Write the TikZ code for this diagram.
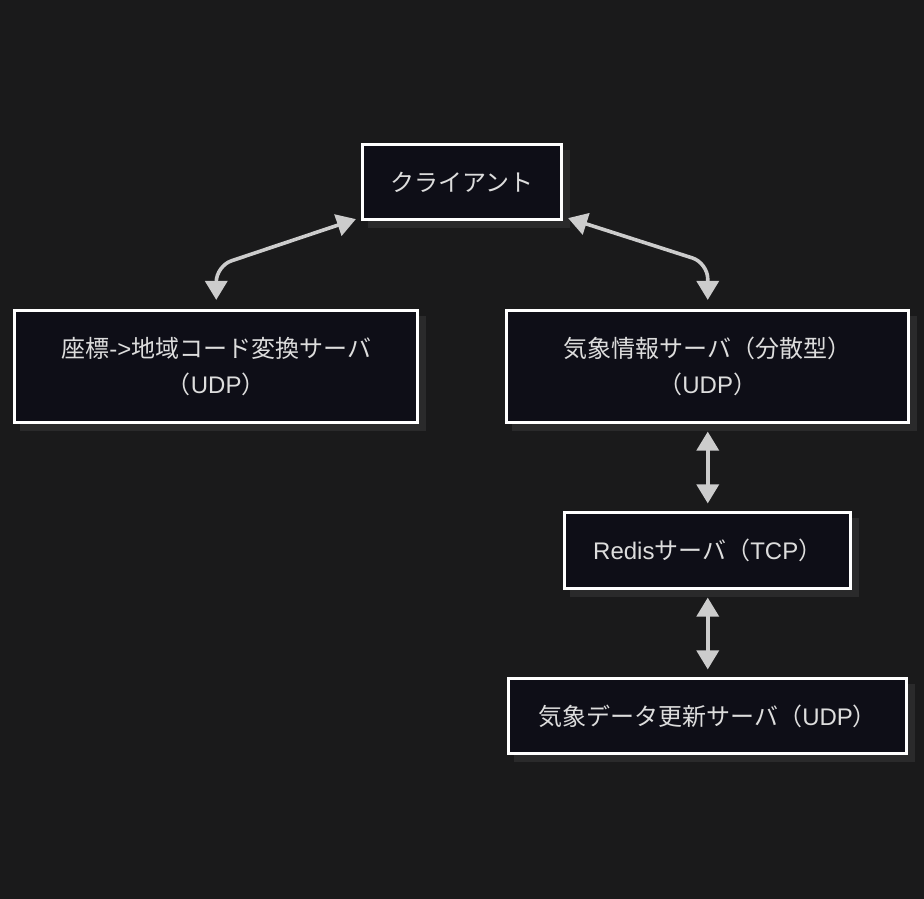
\documentclass[tikz,border=0pt]{standalone}
\usepackage{fontspec}
\setmainfont{Liberation Sans}
\newfontfamily\jafont{Noto Sans CJK JP}
\newcommand{\ja}[1]{{\jafont #1}}
\usetikzlibrary{trees}
\usetikzlibrary{shadows}
\usetikzlibrary{arrows.meta}
\definecolor{bgcol}{HTML}{1A1A1B}
\definecolor{boxfill}{HTML}{0E0E17}
\definecolor{boxshadow}{HTML}{2A2A2B}
\definecolor{linkcol}{HTML}{CCCCCC}
\definecolor{labelcol}{HTML}{DDDDDD}

\begin{document}
\begin{tikzpicture}
[x=1pt,y=1pt,%
  every node/.style={shape=rectangle,draw=white,line width=3.2pt,fill=boxfill,%
    text=labelcol,align=center,font=\fontsize{24pt}{36pt}\selectfont,%
    general shadow={fill=boxshadow,draw=boxshadow,line width=3.2pt,%
      shadow xshift=7pt,shadow yshift=-7pt}},%
  edge from parent/.style={draw=linkcol,line width=3.6pt,%
    {Triangle[length=19pt,width=22pt]}-{Triangle[length=19pt,width=22pt]}},%
  level 3/.style={level distance=165.5pt}]
\useasboundingbox[fill=bgcol] (0,0) rectangle (924,-899);
\node (client) at (462,-182) [minimum width=199pt,minimum height=75pt] {\ja{クライアント}}
  [sibling distance=491.5pt,level distance=184.5pt]
  child[edge from parent path={(\tikzchildnode.north) -- ([yshift=43pt]\tikzchildnode.north)
      -- ([xshift=-5pt,yshift=2pt]\tikzparentnode.south west)}] {node (coordsrv)
      [minimum width=403pt,minimum height=112pt]
      {\ja{座標}->\ja{地域コード変換サーバ}\\\ja{（}UDP\ja{）}}
    edge from parent[rounded corners=16pt,shorten <=9pt]
  }
  child[edge from parent path={(\tikzchildnode.north) -- ([yshift=46pt]\tikzchildnode.north)
      -- ([xshift=5pt,yshift=3pt]\tikzparentnode.south east)}] {node (weathersrv)
      [minimum width=402pt,minimum height=112pt]
      {\ja{気象情報サーバ（分散型）}\\\ja{（}UDP\ja{）}}
    [level distance=184pt]
    child[edge from parent path={(\tikzparentnode) -- (\tikzchildnode)}] {node (redis)
        [minimum width=286pt,minimum height=76pt]
        {Redis\ja{サーバ（}TCP\ja{）}}
      child {node (updater) [minimum width=398pt,minimum height=75pt]
          {\ja{気象データ更新サーバ（}UDP\ja{）}}
        edge from parent[shorten <=7.5pt,shorten >=7.5pt]
      }
      edge from parent[shorten <=7.5pt,shorten >=7.5pt]
    }
    edge from parent[rounded corners=16pt,shorten <=9pt]
  };
\end{tikzpicture}
\end{document}
